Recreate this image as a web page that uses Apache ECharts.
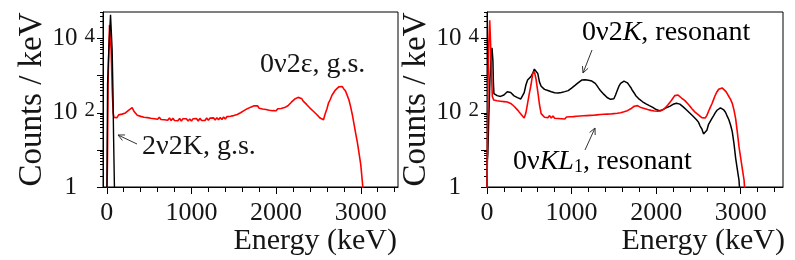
<!DOCTYPE html>
<html><head><meta charset="utf-8">
<script src="https://cdn.jsdelivr.net/npm/echarts@6/dist/echarts.min.js"></script>
<style>html,body{margin:0;padding:0;background:#fff}#c{width:795px;height:260px}</style>
</head><body><div id="c"></div>
<script>
// ---------- data (counts / keV) ----------
const binStep = 20; // keV between body points

// Left panel: 2v2K g.s. (black) and 0v2e g.s. (red)
const leftBlackE = [0, 8, 9, 24, 44, 63, 72, 76, 80, 92, 94];
const leftBlackV = [0.3, 0.3, 600, 5000, 44000, 5000, 470, 470, 22, 22, 0.3];

const leftRedHeadE = [0, 8, 15, 24, 32, 44, 51, 63, 75, 85];
const leftRedHeadV = [0.3, 6, 600, 5000, 23000, 23000, 5000, 470, 100, 75];
const leftRedBodyStart = 100;
const leftRedBodyV = [
 84,74,88,79,92,84,99,95,118,122,138,110,104,86,93,80,88,76,85,74,
 82,71,80,69,78,67,76,66,74,65,73,63,72,62,71,62,70,61,70,60,
 69,61,69,60,68,60,69,61,70,60,71,62,70,62,72,63,72,64,73,64,
 74,65,75,66,77,68,79,70,81,72,84,76,90,84,100,94,114,108,129,121,
 142,132,154,140,155,133,146,127,140,123,133,117,129,114,127,113,128,115,131,120,
 138,131,155,158,193,196,234,232,260,238,244,206,203,168,164,134,133,110,108,90,
 89,72,69,65,94,126,186,228,298,336,410,440,500,505,510,440,388,294,225,146,
 90,50,28,16,8,4,1.3,0.3
];

// Right panel: 0v2K resonant (black) and 0vKL1 resonant (red)
const rightBlackHeadE = [0, 4, 10, 20, 35, 50, 59, 64, 70, 76, 82];
const rightBlackHeadV = [0.3, 5, 8, 60, 800, 4000, 5600, 5600, 2500, 600, 330];
const rightBlackBodyStart = 100;
const rightBlackBodyV = [
 300,290,282,276,286,302,330,368,380,352,312,286,268,256,244,236,262,350,560,760,
 860,950,1150,1500,1600,1150,680,520,462,428,408,398,378,368,350,348,338,340,344,352,
 358,372,380,396,418,462,498,548,588,652,718,762,778,780,758,748,728,716,688,622,
 538,462,398,352,318,292,258,246,230,228,238,302,398,522,618,692,712,698,642,558,
 482,398,342,288,262,232,216,198,186,174,166,156,150,140,131,122,119,114,118,121,
 131,137,146,149,161,169,179,181,181,171,161,144,133,119,109,97,89,79,73,64,
 56,44,37,27,27,34,49,59,71,84,101,117,131,135,134,119,103,81,65,47,
 31,15,6,3,1.5,0.3
];

const rightRedHeadE = [0, 3, 12, 22, 32, 42, 52, 63];
const rightRedHeadV = [0.3, 5, 700, 8000, 31000, 8000, 1400, 275];
const rightRedBodyStart = 80;
const rightRedBodyV = [
 220,235,210,228,205,222,200,215,195,200,178,172,150,142,120,105,95,82,72,100,
 180,330,560,1100,1300,800,380,170,95,88,76,86,74,84,72,82,71,80,70,79,
 69,78,68,77,69,78,70,79,71,81,72,82,73,83,74,84,75,85,76,86,
 78,88,79,90,80,91,81,92,82,93,84,95,86,97,89,100,93,106,100,114,
 110,128,130,150,145,156,140,138,125,130,118,122,110,116,106,112,104,110,106,114,
 115,130,140,165,180,215,250,290,305,300,270,250,225,212,195,170,150,130,115,104,
 96,88,80,74,71,72,85,110,140,175,230,300,370,430,465,468,440,385,330,275,
 230,180,120,70,30,12,6,3,1.5,0.3
];

// axis ticks / labels
const xLabelValues = [0, 1000, 2000, 3000];
const xMinorValues = [200,400,600,800,1200,1400,1600,1800,2200,2400,2600,2800,3200,3400];
const yMajorValues = [1, 10, 100, 1000, 10000];
const yLabelValues = [1, 100, 10000];
const yMinorValues = [2,3,4,5,6,7,8,9,20,30,40,50,60,70,80,90,200,300,400,500,600,700,800,900,
  2000,3000,4000,5000,6000,7000,8000,9000,20000,30000,40000,50000];

const xTitle = 'Energy (keV)';
const yTitle = 'Counts / keV';

// ---------- chart ----------
const FONT = '"Liberation Serif", "Times New Roman", serif';
const INK = '#151515';

function build(headE, headV, start, bodyV) {
  const pts = headE.map((e, i) => [e, headV[i]]);
  bodyV.forEach((v, i) => pts.push([start + i * binStep, v]));
  return pts;
}

function xAxes(gi, min, max) {
  return [
    { type: 'value', gridIndex: gi, min, max, position: 'bottom',
      axisLine: { show: true, onZero: false, lineStyle: { color: '#000', width: 1 } },
      axisTick: { show: true, inside: false, length: 7, customValues: xLabelValues, lineStyle: { color: '#000' } },
      axisLabel: { customValues: xLabelValues, margin: 13, fontFamily: FONT, fontSize: 26, color: INK,
        formatter: v => String(v) },
      splitLine: { show: false } },
    { type: 'value', gridIndex: gi, min, max, position: 'bottom',
      axisLine: { show: false, onZero: false },
      axisTick: { show: true, inside: false, length: 5, customValues: xMinorValues, lineStyle: { color: '#000' } },
      axisLabel: { show: false }, splitLine: { show: false } }
  ];
}

function yAxes(gi) {
  return [
    { type: 'log', logBase: 10, gridIndex: gi, min: 1, max: 52000, position: 'left',
      axisLine: { show: true, onZero: false, lineStyle: { color: '#000', width: 1 } },
      axisTick: { show: true, inside: false, length: 6, customValues: yMajorValues, lineStyle: { color: '#000' } },
      axisLabel: { customValues: yLabelValues, margin: 8, color: INK, fontFamily: FONT, fontSize: 24,
        formatter: v => { const p = Math.round(Math.log10(v)); return p === 0 ? '{one|1}' : '{base|10}{expo|' + p + '}'; },
        rich: {
          one: { fontFamily: FONT, fontSize: 25, color: INK, padding: [0, 18, 0, 0] },
          base: { fontFamily: FONT, fontSize: 25, lineHeight: 25, color: INK, padding: [13, 7, 13, 0] },
          expo: { fontFamily: FONT, fontSize: 21, lineHeight: 21, color: INK, verticalAlign: 'top' }
        } },
      splitLine: { show: false },
      name: yTitle, nameLocation: 'middle', nameRotate: 90, nameGap: 53,
      nameTextStyle: { fontFamily: FONT, fontSize: 33, color: INK } },
    { type: 'log', logBase: 10, gridIndex: gi, min: 1, max: 52000, position: 'left',
      axisLine: { show: false, onZero: false },
      axisTick: { show: true, inside: false, length: 3, customValues: yMinorValues, lineStyle: { color: '#000' } },
      axisLabel: { show: false }, splitLine: { show: false } }
  ];
}

function line(xi, yi, data, color, width) {
  return { type: 'line', xAxisIndex: xi, yAxisIndex: yi, data, showSymbol: false, symbol: 'none',
    clip: true, silent: true, animation: false,
    lineStyle: { color, width } };
}

function arrow(tail, tip) {
  const dx = tip[0] - tail[0], dy = tip[1] - tail[1];
  const a = Math.atan2(dy, dx), L = 7, s = 0.45;
  const h1 = [tip[0] - L * Math.cos(a - s), tip[1] - L * Math.sin(a - s)];
  const h2 = [tip[0] - L * Math.cos(a + s), tip[1] - L * Math.sin(a + s)];
  const st = { stroke: '#333', lineWidth: 1, fill: null };
  return [
    { type: 'polyline', shape: { points: [tail, tip] }, style: st, silent: true },
    { type: 'polyline', shape: { points: [h1, tip, h2] }, style: st, silent: true }
  ];
}

const txt = { fontFamily: FONT, fontSize: 28, fill: INK };
const rich = {
  n: { fontFamily: FONT, fontSize: 28, lineHeight: 28, color: INK },
  i: { fontFamily: FONT, fontSize: 28, lineHeight: 28, color: INK, fontStyle: 'italic' },
  sub: { fontFamily: FONT, fontSize: 18, lineHeight: 18, color: INK, verticalAlign: 'bottom' }
};
const titleStyle = { fontFamily: FONT, fontSize: 30, fill: INK, align: 'right', verticalAlign: 'middle' };

const chart = echarts.init(document.getElementById('c'), null, { renderer: 'canvas' });
chart.setOption({
  animation: false,
  backgroundColor: '#fff',
  grid: [
    { left: 103, top: 12, width: 295, height: 175, containLabel: false, outerBoundsMode: 'none',
      show: true, borderColor: '#000', borderWidth: 1, backgroundColor: 'transparent' },
    { left: 487, top: 12, width: 296, height: 175, containLabel: false, outerBoundsMode: 'none',
      show: true, borderColor: '#000', borderWidth: 1, backgroundColor: 'transparent' }
  ],
  xAxis: [...xAxes(0, -45, 3440), ...xAxes(1, 0, 3500)],
  yAxis: [...yAxes(0), ...yAxes(1)],
  series: [
    line(0, 0, build(leftRedHeadE, leftRedHeadV, leftRedBodyStart, leftRedBodyV), '#ff0000', 1.6),
    line(0, 0, leftBlackE.map((e, i) => [e, leftBlackV[i]]), '#000', 1.4),
    line(2, 2, build(rightBlackHeadE, rightBlackHeadV, rightBlackBodyStart, rightBlackBodyV), '#000', 1.5),
    line(2, 2, build(rightRedHeadE, rightRedHeadV, rightRedBodyStart, rightRedBodyV), '#ff0000', 1.6)
  ],
  graphic: [
    { type: 'text', x: 397, y: 241, silent: true, style: Object.assign({ text: xTitle }, titleStyle) },
    { type: 'text', x: 785, y: 241, silent: true, style: Object.assign({ text: xTitle }, titleStyle) },
    { type: 'text', x: 260, y: 65, silent: true, style: Object.assign({ text: '0ν2ε, g.s.', verticalAlign: 'middle' }, txt) },
    { type: 'text', x: 142, y: 147, silent: true, style: Object.assign({ text: '2ν2K, g.s.', verticalAlign: 'middle' }, txt) },
    { type: 'text', x: 582, y: 33, silent: true, style: { text: '{n|0ν2}{i|K}{n|, resonant}', rich, verticalAlign: 'middle' } },
    { type: 'text', x: 513, y: 162, silent: true, style: { text: '{n|0ν}{i|KL}{sub|1}{n|, resonant}', rich, verticalAlign: 'middle' } },
    ...arrow([137, 144], [118, 135]),
    ...arrow([592, 50], [583, 73]),
    ...arrow([585, 150], [595, 128])
  ]
});
</script></body></html>
